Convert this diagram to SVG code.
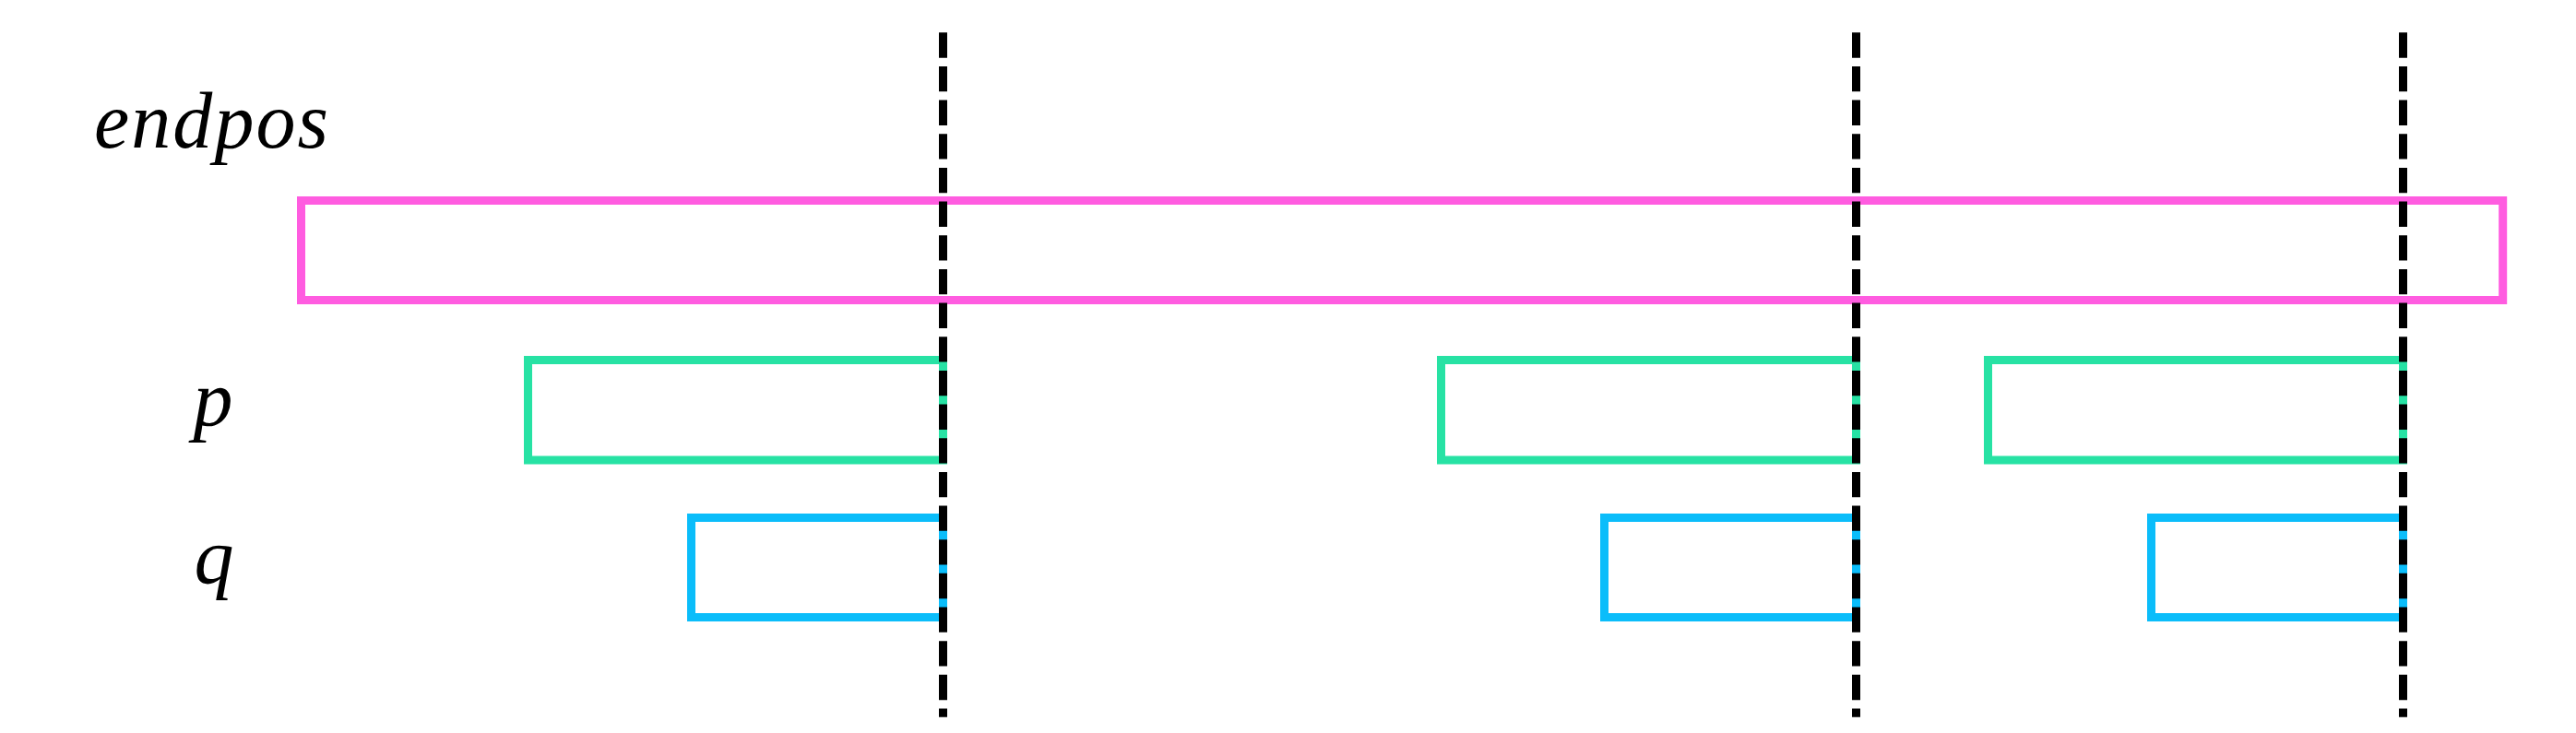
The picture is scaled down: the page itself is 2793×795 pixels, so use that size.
<svg xmlns="http://www.w3.org/2000/svg" width="2793" height="795" viewBox="0 0 2793 795">
<style>
.lbl{font-family:"Liberation Serif","DejaVu Serif",serif;font-style:italic;font-size:86px;fill:#000}
.box{fill:none;stroke-width:9}
.pink{stroke:#FF5CE0}
.green{stroke:#27E2A4}
.blue{stroke:#0BBDFA}
.dash{stroke:#000;stroke-width:9;stroke-dasharray:27.33 9.33;fill:none}
</style>
<rect width="2793" height="795" fill="#fff"/>
<g id="labels">
<text id="label-endpos" class="lbl" x="102" y="160" textLength="254" lengthAdjust="spacing">endpos</text>
<text id="label-p" class="lbl" x="231" y="461" text-anchor="middle">p</text>
<text id="label-q" class="lbl" x="232" y="632" text-anchor="middle">q</text>
</g>
<g id="endpos-bar">
<rect class="box pink" x="326.5" y="217.5" width="2387.2" height="108"/>
</g>
<g id="p-group-1"><rect class="box green" x="572.5" y="390.5" width="450" height="108.5"/></g>
<g id="q-group-1"><rect class="box blue" x="749.5" y="561.5" width="273" height="108"/></g>
<g id="p-group-2"><rect class="box green" x="1562.5" y="390.5" width="450" height="108.5"/></g>
<g id="q-group-2"><rect class="box blue" x="1739.5" y="561.5" width="273" height="108"/></g>
<g id="p-group-3"><rect class="box green" x="2155.5" y="390.5" width="450" height="108.5"/></g>
<g id="q-group-3"><rect class="box blue" x="2332.5" y="561.5" width="273" height="108"/></g>
<g id="connectors">
<line class="dash" x1="1022.5" y1="35.3" x2="1022.5" y2="777.7"/>
<line class="dash" x1="2012.5" y1="35.3" x2="2012.5" y2="777.7"/>
<line class="dash" x1="2605.5" y1="35.3" x2="2605.5" y2="777.7"/>
</g>
</svg>
